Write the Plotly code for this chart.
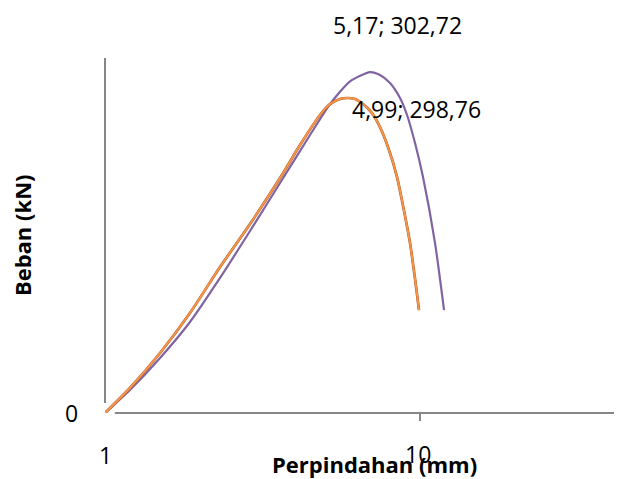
import plotly.graph_objects as go

# Data (x: displacement mm, log scale; y: load kN)
purple_x = [1.0, 1.200, 1.495, 1.861, 2.318, 2.886, 3.594, 4.475, 5.179, 5.995, 6.940,
            7.464, 8.030, 8.640, 9.094, 9.641, 10.22, 11.16, 11.92]
purple_y = [0.0, 20.4, 48.8, 80.8, 119.9, 161.6, 204.2, 246.8, 274.3, 294.5, 302.7,
            300.1, 293.0, 279.7, 264.6, 239.7, 209.5, 150.9, 91.4]

orange_x = [1.0, 1.200, 1.495, 1.861, 2.318, 2.886, 3.594, 4.159, 4.814, 5.179, 5.572,
            5.866, 6.219, 6.592, 7.041, 7.464, 7.913, 8.453, 9.296, 9.927]
orange_y = [0.0, 22.2, 53.3, 88.8, 129.6, 167.8, 208.6, 237.9, 264.6, 274.3, 278.8,
            279.7, 278.8, 274.3, 266.3, 253.9, 236.2, 209.5, 150.9, 91.4]

label_purple = "5,17; 302,72"
label_orange = "4,99; 298,76"
x_ticks = ["1", "10"]
y_ticks = ["0"]
x_title = "Perpindahan (mm)"
y_title = "Beban (kN)"

FONT = "Open Sans"
AX = "#868686"

fig = go.Figure()
fig.add_trace(go.Scatter(x=purple_x, y=purple_y, mode="lines",
                         line=dict(color="#8064A2", width=2.2, shape="spline", smoothing=0.6),
                         hoverinfo="skip", showlegend=False))
fig.add_trace(go.Scatter(x=orange_x, y=orange_y, mode="lines",
                         line=dict(color="#A0522D", width=2.7, shape="spline", smoothing=0.6),
                         hoverinfo="skip", showlegend=False))
fig.add_trace(go.Scatter(x=orange_x, y=orange_y, mode="lines",
                         line=dict(color="#F79646", width=2.0, shape="spline", smoothing=0.6),
                         hoverinfo="skip", showlegend=False))

# page has an 8px body margin, so the figure is 8px smaller and shifted
fig.update_layout(
    width=614, height=471,
    margin=dict(l=97, r=1, t=50, b=66),
    paper_bgcolor="white", plot_bgcolor="white",
    xaxis=dict(type="log", range=[0, 1.638], showgrid=False, zeroline=False,
               showline=False, showticklabels=False, ticks=""),
    yaxis=dict(range=[0, 315.2], showgrid=False, zeroline=False,
               showline=False, showticklabels=False, ticks=""),
    font=dict(family=FONT, color="black"),
)

# axis lines and tick
fig.add_shape(type="line", xref="paper", yref="paper", x0=0, x1=0, y0=0.028, y1=1.0,
              line=dict(color=AX, width=2))
fig.add_shape(type="line", xref="paper", yref="paper", x0=0.019, x1=1.02, y0=0, y1=0,
              line=dict(color=AX, width=2))
fig.add_shape(type="line", xref="paper", yref="paper", x0=0.6105, x1=0.6105, y0=0, y1=-0.0225,
              line=dict(color=AX, width=2))

def ann(text, x, y, size, bold=False, angle=0):
    fig.add_annotation(text=f"<b>{text}</b>" if bold else text, x=x, y=y,
                       xref="paper", yref="paper", showarrow=False,
                       xanchor="center", yanchor="middle", textangle=angle,
                       font=dict(family=FONT, size=size, color="black"))

ann(label_purple, 0.566, 1.093, 23)
ann(label_orange, 0.603, 0.855, 23)
ann(y_ticks[0], -0.064, 0.0, 23)
ann(x_ticks[0], 0.0, -0.118, 23)
ann(x_ticks[1], 0.6066, -0.1155, 23)
ann(x_title, 0.523, -0.1437, 22, bold=True)
ann(y_title, -0.1609, 0.501, 22, bold=True, angle=-90)

fig.write_html("out.html")
